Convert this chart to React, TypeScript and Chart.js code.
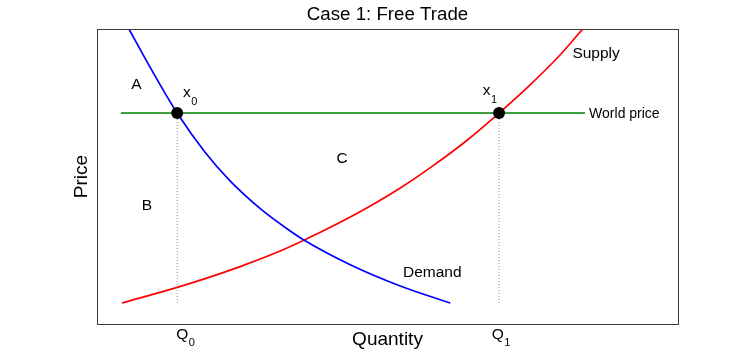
import React, { useEffect, useRef } from 'react';
import { Chart, registerables } from 'chart.js';

Chart.register(...registerables);

// Data (quantity 0-100 on x, price 0-100 on y)
const demandQ = [5.5, 9.5, 13.8, 18.6, 22.9, 28.1, 32.7, 35.6, 43.5, 52.2, 60.8];
const demandP = [100, 85.8, 71.5, 58.2, 48.5, 39.1, 32.3, 28.5, 20.2, 12.9, 7.1];
const supplyQ = [4.3, 13.8, 19.4, 25.1, 31.0, 35.6, 40.6, 46.5, 52.2, 57.8, 63.7, 69.2, 74.5, 79.7, 83.6];
const supplyP = [7.1, 12.4, 15.9, 19.8, 24.3, 28.4, 33.2, 39.4, 46.1, 53.6, 62.3, 71.5, 81.0, 91.2, 100];
const worldPrice = 71.5;
const worldQ = [4.1, 84.0];
const tradeQ = [13.8, 69.2];
const tradeLabels = ['0', '1'];
const floorP = 7.1;

const regionLabels = ['A', 'B', 'C'];
const regionQ = [6.8, 8.6, 42.2];
const regionP = [81.3, 40.3, 56.3];

const curveLabels = ['Supply', 'Demand'];
const curveQ = [85.9, 57.7];
const curveP = [91.9, 17.6];
const worldLabel = 'World price';
const worldLabelQ = 84.7;

const pointLabelQ = [14.8, 66.4];
const pointLabelP = [76.9, 77.6];
const axisLabelQ = [13.8, 68.1];

const title = 'Case 1: Free Trade';
const xTitle = 'Quantity';
const yTitle = 'Price';

const FONT = '"Liberation Sans", Arial, sans-serif';

function pts(xs: number[], ys: number[]) {
  return xs.map((x, i) => ({ x, y: ys[i] }));
}

const annotations = {
  id: 'annotations',
  afterDraw(chart: any) {
    const { ctx, chartArea, scales } = chart;
    const xs = scales.x;
    const ys = scales.y;
    ctx.save();
    // box
    ctx.strokeStyle = '#3c3c3c';
    ctx.lineWidth = 1;
    ctx.strokeRect(chartArea.left + 0.5, chartArea.top + 0.5, chartArea.right - chartArea.left, chartArea.bottom - chartArea.top);

    ctx.fillStyle = '#000';
    // title
    ctx.font = `18.7px ${FONT}`;
    ctx.textAlign = 'center';
    ctx.textBaseline = 'alphabetic';
    ctx.fillText(title, (chartArea.left + chartArea.right) / 2, chartArea.top - 9);
    // x title
    ctx.font = `19px ${FONT}`;
    ctx.fillText(xTitle, (chartArea.left + chartArea.right) / 2, chartArea.bottom + 21);
    // y title
    ctx.save();
    ctx.translate(chartArea.left - 10, (chartArea.top + chartArea.bottom) / 2);
    ctx.rotate(-Math.PI / 2);
    ctx.fillText(yTitle, 0, 0);
    ctx.restore();

    // region labels
    ctx.font = `15.5px ${FONT}`;
    ctx.textAlign = 'center';
    ctx.textBaseline = 'middle';
    regionLabels.forEach((t, i) => {
      ctx.fillText(t, xs.getPixelForValue(regionQ[i]), ys.getPixelForValue(regionP[i]) + 1);
    });
    curveLabels.forEach((t, i) => {
      ctx.fillText(t, xs.getPixelForValue(curveQ[i]), ys.getPixelForValue(curveP[i]) + 1);
    });
    ctx.font = `14px ${FONT}`;
    ctx.textAlign = 'left';
    ctx.fillText(worldLabel, xs.getPixelForValue(worldLabelQ), ys.getPixelForValue(worldPrice) + 1);

    // point labels x0, x1
    ctx.textBaseline = 'alphabetic';
    tradeLabels.forEach((s, i) => {
      const px = xs.getPixelForValue(pointLabelQ[i]);
      const py = ys.getPixelForValue(pointLabelP[i]);
      ctx.font = `15.5px ${FONT}`;
      ctx.fillText('x', px, py);
      const w = ctx.measureText('x').width;
      ctx.font = `11px ${FONT}`;
      ctx.fillText(s, px + w + 0.5, py + 8);
    });

    // Q0, Q1 below axis
    tradeLabels.forEach((s, i) => {
      const px = xs.getPixelForValue(axisLabelQ[i]) - 1;
      const py = chartArea.bottom + 15;
      ctx.font = `15.5px ${FONT}`;
      ctx.fillText('Q', px, py);
      const w = ctx.measureText('Q').width;
      ctx.font = `11px ${FONT}`;
      ctx.fillText(s, px + w + 0.5, py + 7);
    });
    ctx.restore();
  },
};

export default function App() {
  const ref = useRef<HTMLCanvasElement | null>(null);
  useEffect(() => {
    if (!ref.current) return;
    const chart = new Chart(ref.current, {
      type: 'scatter',
      data: {
        datasets: [
          {
            label: 'points',
            data: tradeQ.map((q) => ({ x: q, y: worldPrice })),
            pointRadius: 6,
            pointBackgroundColor: '#000',
            pointBorderColor: '#000',
            pointBorderWidth: 0,
            showLine: false,
            order: 0,
          } as any,
          {
            label: 'world',
            data: worldQ.map((q) => ({ x: q, y: worldPrice })),
            showLine: true,
            borderColor: '#008000',
            borderWidth: 1.5,
            pointRadius: 0,
            order: 1,
          },
          {
            label: 'demand',
            data: pts(demandQ, demandP),
            showLine: true,
            borderColor: '#0000ff',
            borderWidth: 1.7,
            pointRadius: 0,
            cubicInterpolationMode: 'monotone',
            order: 2,
          } as any,
          {
            label: 'supply',
            data: pts(supplyQ, supplyP),
            showLine: true,
            borderColor: '#ff0000',
            borderWidth: 1.7,
            pointRadius: 0,
            cubicInterpolationMode: 'monotone',
            order: 2,
          } as any,
          ...tradeQ.map((q) => ({
            label: 'drop',
            data: [
              { x: q, y: worldPrice },
              { x: q, y: floorP },
            ],
            showLine: true,
            borderColor: '#8c8c8c',
            borderWidth: 1,
            borderDash: [1, 2],
            pointRadius: 0,
            order: 3,
          })),
        ],
      },
      options: {
        responsive: false,
        animation: false,
        devicePixelRatio: 1,
        layout: { padding: { left: 97, right: 72, top: 29, bottom: 40 } },
        scales: {
          x: { type: 'linear', min: 0, max: 100, display: false },
          y: { type: 'linear', min: 0, max: 100, display: false },
        },
        plugins: {
          legend: { display: false },
          tooltip: { enabled: false },
          title: { display: false },
        },
        events: [],
      },
      plugins: [annotations],
    });
    return () => chart.destroy();
  }, []);
  return (
    <div style={{ position: 'absolute', left: 0, top: 0, width: 750, height: 364, background: '#fff' }}>
      <canvas ref={ref} width={750} height={364} style={{ width: 750, height: 364 }} />
    </div>
  );
}
